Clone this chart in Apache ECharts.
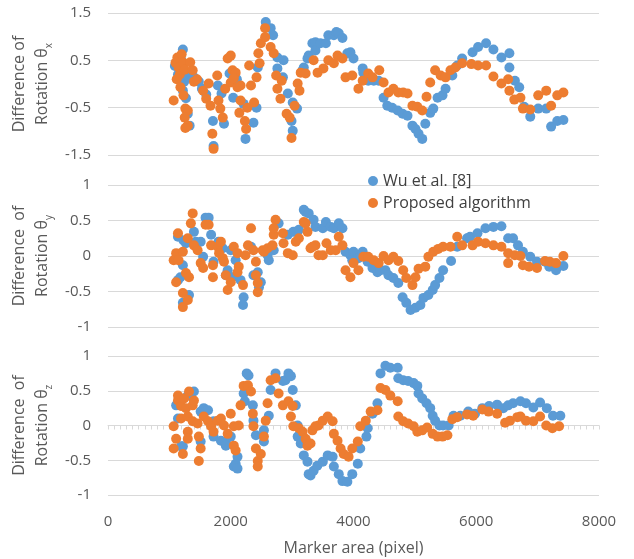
<!DOCTYPE html>
<html>
<head>
<meta charset="utf-8">
<script src="https://cdn.jsdelivr.net/npm/echarts@6/dist/echarts.min.js"></script>
<style>
  html, body { margin: 0; padding: 0; background: #fff; }
  #chart { width: 634px; height: 559px; }
</style>
</head>
<body>
<div id="chart"></div>
<script>
// x = marker area (pixel), y = rotation difference
const xTicks = [0, 2000, 4000, 6000, 8000]

// θx
const thetaXWu = [
  [1090, 0.38], [1140, 0.20], [1220, 0.73], [1190, 0.52], [1240, 0.05], [1220, -0.14], [1270, -0.30], [1310, 0.15],
  [1300, -0.63], [1330, -0.88], [1400, 0.14], [1480, 0.05], [1530, -0.10], [1600, -0.22], [1710, -0.78], [1720, -1.31],
  [1790, -0.03], [1850, -0.20], [1890, -0.84], [1980, 0.22], [2040, -0.29], [2100, 0.10], [2210, -0.42], [2240, -1.16],
  [2370, -0.82], [2420, -0.50], [2440, 0.35], [2570, 1.31], [2650, 1.18], [2690, 1.03], [2760, 0.56], [2860, 0.50],
  [2760, 0.33], [2850, 0.14], [2930, -0.20], [2990, -0.78], [3010, -0.99], [3010, -0.39], [3080, -0.52], [3170, 0.29],
  [3190, 0.35], [3250, 0.54], [3270, 0.60], [3330, 0.86], [3380, 0.88], [3380, 0.71], [3460, 0.86], [3550, 0.86],
  [3590, 1.03], [3680, 1.03], [3720, 1.10], [3760, 1.07], [3820, 0.97], [3900, 0.65], [3950, 0.67], [4000, 0.54],
  [4150, 0.33], [4160, 0.24], [4240, 0.07], [4330, 0.07], [4410, 0.07], [4490, -0.29], [4550, -0.46], [4630, -0.50],
  [4720, -0.56], [4800, -0.63], [4880, -0.67], [4960, -0.88], [5010, -0.95], [5060, -1.05], [5120, -1.16], [5170, -0.84],
  [5250, -0.61], [5300, -0.52], [5370, -0.29], [5450, -0.24], [5500, -0.10], [5610, 0.18], [5690, 0.39], [5770, 0.54],
  [5940, 0.67], [6030, 0.78], [6160, 0.86], [6280, 0.73], [6410, 0.56], [6540, 0.65], [6540, 0.35], [6630, 0.07],
  [6700, -0.07], [6780, -0.48], [6880, -0.69], [7010, -0.52], [7140, -0.52], [7220, -0.90], [7320, -0.78], [7420, -0.76]
]
const thetaXOurs = [
  [1070, -0.35], [1100, 0.45], [1130, 0.56], [1150, 0.35], [1170, 0.20], [1120, 0.10], [1200, 0.63], [1230, 0.45],
  [1250, 0.30], [1180, -0.07], [1230, -0.24], [1260, -0.52], [1300, -0.56], [1250, -0.71], [1300, -0.88], [1260, -0.93],
  [1340, 0.46], [1380, 0.29], [1400, 0.05], [1450, 0.10], [1550, -0.14], [1600, -0.31], [1640, 0.01], [1670, -0.46],
  [1700, -1.05], [1720, -1.37], [1780, 0.18], [1800, -0.35], [1830, -0.52], [1870, -0.71], [1910, -0.10], [1950, 0.54],
  [2000, 0.60], [2030, 0.29], [2000, 0.03], [2080, 0.24], [2050, 0.12], [2110, -0.07], [2160, -0.03], [2160, -0.35],
  [2140, -0.61], [2230, -0.78], [2250, -0.95], [2270, -0.50], [2300, 0.39], [2330, -0.03], [2380, -0.39], [2420, 0.14],
  [2450, 0.65], [2470, 0.44], [2490, 0.86], [2560, 1.18], [2560, 0.99], [2650, 0.78], [2700, 0.65], [2740, 0.18],
  [2760, -0.10], [2810, -0.31], [2830, 0.07], [2910, -0.63], [2960, -0.71], [2990, -1.14], [3040, -0.46], [3090, 0.01],
  [3120, -0.14], [3140, 0.24], [3220, 0.22], [3350, 0.50], [3415, 0.24], [3510, 0.33], [3590, 0.50], [3680, 0.44],
  [3740, 0.60], [3820, 0.54], [3870, 0.14], [3980, 0.18], [4080, -0.10], [4150, 0.07], [4240, 0.22], [4310, 0.14],
  [4420, 0.29], [4490, 0.03], [4570, -0.18], [4650, -0.10], [4730, -0.18], [4810, -0.18], [4880, -0.20], [4960, -0.46],
  [5040, -0.48], [5120, -0.56], [5190, -0.27], [5250, 0.03], [5330, 0.29], [5420, 0.18], [5500, 0.14], [5580, 0.29],
  [5660, 0.35], [5770, 0.44], [5920, 0.42], [6030, 0.39], [6160, 0.39], [6280, 0.16], [6410, 0.01], [6520, 0.10],
  [6540, -0.14], [6620, -0.33], [6720, -0.29], [6760, -0.52], [6880, -0.54], [7010, -0.24], [7140, -0.14], [7220, -0.46],
  [7320, -0.24], [7420, -0.18]
]

// θy
const thetaYWu = [
  [1140, 0.27], [1140, -0.34], [1180, -0.30], [1220, -0.13], [1230, 0.22], [1270, 0.18], [1320, -0.55], [1220, -0.66],
  [1400, 0.34], [1430, 0.20], [1510, 0.20], [1550, -0.01], [1590, 0.54], [1640, 0.54], [1680, 0.30], [1720, -0.08],
  [1800, 0.20], [1870, 0.11], [1950, -0.20], [1920, -0.27], [2030, -0.30], [2000, 0.08], [2080, -0.06], [2160, -0.34],
  [2210, -0.58], [2200, -0.69], [2330, 0.13], [2440, -0.23], [2460, -0.44], [2490, -0.37], [2370, -0.27], [2600, 0.01],
  [2620, -0.06], [2700, 0.08], [2780, 0.46], [2930, 0.30], [3020, 0.34], [3110, 0.37], [3190, 0.65], [3220, 0.62],
  [3270, 0.60], [3350, 0.51], [3380, 0.41], [3500, 0.39], [3550, 0.48], [3630, 0.41], [3680, 0.39], [3760, 0.46],
  [3820, 0.39], [3870, 0.06], [3950, 0.01], [4000, 0.06], [3980, -0.06], [4080, -0.03], [4150, 0.06], [4230, -0.08],
  [4310, -0.17], [4390, -0.23], [4440, -0.20], [4520, -0.20], [4570, -0.27], [4650, -0.31], [4730, -0.38], [4800, -0.58],
  [4860, -0.66], [4930, -0.76], [5010, -0.73], [5090, -0.69], [5140, -0.59], [5220, -0.55], [5290, -0.48], [5330, -0.41],
  [5400, -0.31], [5460, -0.20], [5590, -0.07], [5690, 0.13], [5850, 0.25], [5900, 0.27], [6020, 0.32], [6150, 0.39],
  [6280, 0.41], [6410, 0.42], [6520, 0.25], [6600, 0.25], [6680, 0.15], [6760, 0.06], [6880, -0.01], [6990, -0.08],
  [7120, -0.08], [7190, -0.15], [7300, -0.20], [7420, -0.14]
]
const thetaYOurs = [
  [1140, 0.32], [1110, 0.04], [1070, -0.06], [1110, -0.37], [1220, 0.06], [1150, -0.06], [1270, -0.24], [1220, -0.52],
  [1220, -0.72], [1300, -0.62], [1320, -0.30], [1300, 0.25], [1350, 0.46], [1380, 0.60], [1400, 0.15], [1460, 0.08],
  [1510, -0.10], [1550, -0.17], [1590, 0.44], [1640, 0.44], [1680, 0.15], [1710, -0.13], [1710, -0.30], [1790, 0.13],
  [1810, 0.04], [1840, 0.20], [1870, -0.03], [1890, -0.08], [1920, -0.27], [1950, -0.48], [2000, -0.37], [2050, 0.13],
  [2110, 0.04], [2130, -0.15], [2110, -0.23], [2200, -0.41], [2240, 0.01], [2280, 0.15], [2330, 0.39], [2370, 0.08],
  [2410, -0.08], [2410, -0.27], [2440, -0.38], [2440, -0.51], [2520, 0.08], [2540, 0.06], [2600, 0.11], [2680, 0.15],
  [2700, 0.30], [2730, 0.51], [2700, 0.39], [2850, 0.32], [2860, 0.18], [2930, 0.04], [3010, 0.01], [3060, 0.20],
  [3110, 0.25], [3190, 0.48], [3250, 0.34], [3300, 0.11], [3380, 0.15], [3430, 0.01], [3220, 0.46], [3330, 0.13],
  [3500, 0.01], [3560, 0.18], [3630, 0.08], [3710, 0.08], [3760, 0.27], [3820, 0.15], [3870, -0.20], [3950, -0.30],
  [4000, -0.10], [4080, -0.20], [4160, -0.01], [4240, -0.01], [4330, -0.06], [4410, -0.10], [4490, 0.00], [4570, -0.06],
  [4650, -0.01], [4730, -0.07], [4810, -0.20], [4860, -0.31], [4960, -0.41], [5010, -0.30], [5060, -0.18], [5170, -0.15],
  [5220, -0.01], [5300, 0.06], [5380, 0.10], [5460, 0.13], [5580, 0.13], [5690, 0.27], [5770, 0.15], [5940, 0.15],
  [6030, 0.20], [6150, 0.18], [6280, 0.15], [6410, 0.13], [6520, 0.04], [6520, -0.10], [6630, 0.01], [6720, 0.00],
  [6760, -0.13], [6860, -0.15], [6990, -0.17], [7120, -0.07], [7200, -0.08], [7300, -0.10], [7420, 0.00]
]

// θz
const thetaZWu = [
  [1110, 0.29], [1140, 0.10], [1220, -0.30], [1190, -0.30], [1300, 0.43], [1400, 0.49], [1510, 0.20], [1560, 0.25],
  [1630, 0.22], [1510, -0.23], [1720, 0.06], [1720, -0.16], [1840, -0.22], [1920, -0.23], [2000, -0.16], [1920, -0.29],
  [2110, -0.45], [2080, -0.55], [2050, -0.59], [2110, -0.62], [2210, 0.46], [2290, 0.72], [2260, 0.75], [2230, 0.35],
  [2360, 0.29], [2370, 0.07], [2410, -0.14], [2540, -0.07], [2540, -0.23], [2620, 0.14], [2650, 0.51], [2730, 0.75],
  [2850, 0.64], [2890, 0.65], [2940, 0.75], [2980, 0.71], [3010, 0.51], [3060, 0.29], [3090, 0.00], [3090, -0.16],
  [3140, -0.26], [3190, -0.43], [3250, -0.52], [3300, -0.72], [3270, -0.70], [3350, -0.65], [3410, -0.58], [3500, -0.52],
  [3580, -0.43], [3660, -0.45], [3680, -0.59], [3760, -0.70], [3820, -0.80], [3900, -0.81], [3980, -0.70], [4070, -0.55],
  [4110, -0.33], [4210, -0.16], [4230, -0.04], [4310, 0.17], [4390, 0.32], [4440, 0.75], [4520, 0.86], [4600, 0.83],
  [4720, 0.83], [4730, 0.68], [4810, 0.65], [4890, 0.64], [4980, 0.61], [5040, 0.57], [5060, 0.46], [5120, 0.39],
  [5190, 0.32], [5250, 0.25], [5290, 0.14], [5330, 0.07], [5400, 0.00], [5460, 0.00], [5550, 0.00], [5630, 0.14],
  [5740, 0.14], [5870, 0.20], [5980, 0.17], [6100, 0.25], [6210, 0.28], [6340, 0.30], [6440, 0.25], [6520, 0.29],
  [6600, 0.32], [6720, 0.35], [6810, 0.32], [6930, 0.26], [7040, 0.33], [7150, 0.25], [7250, 0.14], [7370, 0.14]
]
const thetaZOurs = [
  [1070, -0.01], [1070, -0.33], [1140, 0.36], [1140, 0.43], [1190, 0.10], [1110, -0.19], [1220, -0.41], [1190, 0.28],
  [1240, 0.39], [1270, 0.25], [1300, 0.13], [1300, -0.09], [1300, -0.19], [1320, 0.49], [1380, 0.29], [1400, 0.36],
  [1380, 0.06], [1460, 0.03], [1480, -0.16], [1510, -0.33], [1480, -0.51], [1560, 0.13], [1630, 0.06], [1680, -0.01],
  [1720, -0.09], [1790, 0.07], [1840, 0.10], [1890, 0.00], [1950, -0.12], [2000, 0.17], [2050, -0.01], [2050, -0.29],
  [2080, -0.36], [2130, 0.00], [2160, 0.29], [2210, 0.57], [2280, 0.58], [2330, 0.49], [2360, 0.17], [2370, -0.01],
  [2410, -0.33], [2440, -0.51], [2440, -0.59], [2490, -0.41], [2540, -0.16], [2570, 0.07], [2600, 0.32], [2650, 0.65],
  [2730, 0.68], [2780, 0.46], [2850, 0.29], [2940, 0.35], [3010, 0.28], [2980, 0.13], [3020, -0.01], [3110, -0.04],
  [3170, -0.09], [3220, -0.19], [3250, -0.29], [3300, -0.26], [3330, -0.07], [3380, -0.01], [3430, 0.00], [3500, 0.07],
  [3580, 0.13], [3660, 0.06], [3680, -0.12], [3740, -0.22], [3790, -0.33], [3840, -0.41], [3920, -0.45], [3980, -0.33],
  [4070, -0.23], [4110, -0.01], [4200, 0.07], [4280, 0.20], [4390, 0.22], [4440, 0.54], [4520, 0.51], [4600, 0.43],
  [4720, 0.35], [4730, 0.13], [4810, 0.06], [4890, 0.03], [4980, -0.01], [5040, -0.09], [5120, -0.07], [5200, -0.03],
  [5290, -0.12], [5370, -0.16], [5450, -0.16], [5530, -0.14], [5610, 0.09], [5690, 0.12], [5850, 0.16], [5950, 0.14],
  [6100, 0.23], [6200, 0.20], [6340, 0.17], [6470, 0.04], [6550, 0.07], [6670, 0.12], [6720, 0.13], [6810, 0.07],
  [6930, 0.06], [7040, 0.13], [7140, 0.00], [7240, -0.04], [7350, -0.01]
]

const seriesNames = ['Wu et al. [8]', 'Proposed algorithm']
const colors = ['#5B9BD5', '#ED7D31']
const font = '"Open Sans", "Noto Sans", sans-serif'

// 三个面板的布局
const panels = [
  { top: 13, height: 142, min: -1.5, max: 1.5, interval: 1, sub: 'x', gap: '', data: [thetaXWu, thetaXOurs] },
  { top: 185, height: 142, min: -1, max: 1, interval: 0.5, sub: 'y', gap: ' ', data: [thetaYWu, thetaYOurs] },
  { top: 356, height: 139, min: -1, max: 1, interval: 0.5, sub: 'z', gap: ' ', data: [thetaZWu, thetaZOurs] }
]

const grid = panels.map(p => ({ left: 107, width: 492, top: p.top, height: p.height }))

const xAxis = panels.map((p, i) => ({
  type: 'value',
  gridIndex: i,
  min: xTicks[0],
  max: xTicks[xTicks.length - 1],
  interval: 2000,
  show: i === 2,
  axisLine: { show: false, onZero: false },
  axisTick: { show: false },
  splitLine: { show: false },
  axisLabel: { fontSize: 15, color: '#595959', fontFamily: font, margin: 19, formatter: v => String(v) },
  name: i === 2 ? 'Marker area (pixel)' : '',
  nameLocation: 'middle',
  nameGap: 45,
  nameTextStyle: { fontSize: 16, color: '#595959', fontFamily: font }
}))
// 底部面板 0 处的横轴线（带小刻度）
xAxis.push({
  type: 'value',
  gridIndex: 2,
  position: 'top',
  min: 0,
  max: 8000,
  interval: 2000,
  axisLine: { show: true, onZero: true, lineStyle: { color: '#d9d9d9', width: 1 } },
  axisTick: { show: true, inside: true, length: 4, lineStyle: { color: '#d9d9d9' } },
  minorTick: { show: true, splitNumber: 20, length: 4, lineStyle: { color: '#d9d9d9' } },
  axisLabel: { show: false },
  splitLine: { show: false }
})

const yAxis = panels.map((p, i) => ({
  type: 'value',
  gridIndex: i,
  min: p.min,
  max: p.max,
  interval: p.interval,
  axisLine: { show: false },
  axisTick: { show: false },
  splitLine: { lineStyle: { color: '#d9d9d9', width: 1 } },
  axisLabel: { fontSize: 15, color: '#595959', fontFamily: font, margin: 17 },
  name: 'Difference ' + p.gap + 'of\nRotation θ{s|' + p.sub + '}',
  nameLocation: 'middle',
  nameGap: 54,
  nameRotate: 90,
  nameTextStyle: {
    fontSize: 16, color: '#595959', fontFamily: font, lineHeight: 23,
    rich: { s: { fontSize: 10, color: '#595959', fontFamily: font, lineHeight: 14, verticalAlign: 'bottom' } }
  }
}))

const series = []
panels.forEach((p, i) => {
  p.data.forEach((d, k) => {
    series.push({
      name: seriesNames[k],
      type: 'scatter',
      xAxisIndex: i,
      yAxisIndex: i,
      data: d,
      symbolSize: 10,
      itemStyle: { color: colors[k], opacity: 1 }
    })
  })
})

const chart = echarts.init(document.getElementById('chart'))
chart.setOption({
  animation: false,
  color: colors,
  grid,
  xAxis,
  yAxis,
  legend: {
    data: seriesNames,
    orient: 'vertical',
    left: 363,
    top: 168,
    icon: 'circle',
    itemWidth: 10,
    itemHeight: 10,
    itemGap: 6,
    textStyle: { fontSize: 16, color: '#404040', fontFamily: font }
  },
  series
})
</script>
</body>
</html>
